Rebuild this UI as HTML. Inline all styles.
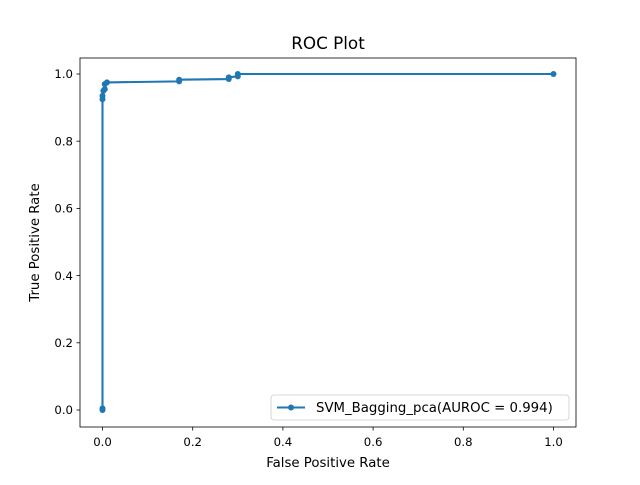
<!DOCTYPE html>
<html><head><meta charset="utf-8"><style>
body{margin:0;background:#fff}
svg text{font-family:"DejaVu Sans","Liberation Sans",sans-serif;fill:#000}
</style></head><body>
<svg id="c" width="640" height="480" xmlns="http://www.w3.org/2000/svg">
<rect width="640" height="480" fill="#fff"/>
<text x="328" y="49" font-size="16.8" text-anchor="middle">ROC Plot</text>
<g id="ticks"></g>
<path id="line" fill="none" stroke="#1f77b4" stroke-width="2.1"/>
<g id="pts"></g>
<rect x="80" y="58" width="496" height="369" fill="none" stroke="#000" stroke-width="0.8"/>
<text x="328" y="467" font-size="13.3" text-anchor="middle">False Positive Rate</text>
<text transform="translate(39,242.5) rotate(-90)" font-size="13.3" text-anchor="middle">True Positive Rate</text>
<g>
<rect x="271" y="395" width="298" height="25" rx="3" fill="#fff" stroke="#ccc" stroke-width="0.8"/>
<line x1="277" y1="407.5" x2="305" y2="407.5" stroke="#1f77b4" stroke-width="2.1"/>
<circle cx="291" cy="407.5" r="3" fill="#1f77b4"/>
<text x="316" y="412" font-size="13.3">SVM_Bagging_pca(AUROC = 0.994)</text>
</g>
</svg>
<script>
const fprValues=[0,0,0,0,0.002,0.005,0.005,0.01,0.17,0.17,0.28,0.28,0.30,0.30,1.0];
const tprValues=[0,0.005,0.925,0.935,0.95,0.955,0.97,0.975,0.978,0.983,0.985,0.99,0.993,1.0,1.0];
const xTicks=[0,0.2,0.4,0.6,0.8,1.0];
const yTicks=[0,0.2,0.4,0.6,0.8,1.0];
const NS="http://www.w3.org/2000/svg";
function sx(v){return 102.5+v*451;}
function sy(v){return 410-v*336;}
const tg=document.getElementById('ticks');
xTicks.forEach(t=>{
 const l=document.createElementNS(NS,'line');
 l.setAttribute('x1',sx(t));l.setAttribute('x2',sx(t));l.setAttribute('y1',427);l.setAttribute('y2',430.5);l.setAttribute('stroke','#000');l.setAttribute('stroke-width','0.8');
 
 
 tg.appendChild(l);
 const s=document.createElementNS(NS,'text');
 s.setAttribute('x',sx(t));s.setAttribute('y',446);s.setAttribute('font-size','11.7');s.setAttribute('text-anchor','middle');
 s.textContent=t.toFixed(1);
 
 
 tg.appendChild(s);
});
yTicks.forEach(t=>{
 const l=document.createElementNS(NS,'line');
 l.setAttribute('x1',76.5);l.setAttribute('x2',80);l.setAttribute('y1',sy(t));l.setAttribute('y2',sy(t));l.setAttribute('stroke','#000');l.setAttribute('stroke-width','0.8');
 
 
 tg.appendChild(l);
 const s=document.createElementNS(NS,'text');
 s.setAttribute('x',73);s.setAttribute('y',sy(t)+4.2);s.setAttribute('font-size','11.7');s.setAttribute('text-anchor','end');
 s.textContent=t.toFixed(1);
 
 
 tg.appendChild(s);
});
let d='';
fprValues.forEach((v,i)=>{d+=(i?'L':'M')+sx(v)+' '+sy(tprValues[i]);});
document.getElementById('line').setAttribute('d',d);
const pg=document.getElementById('pts');
fprValues.forEach((v,i)=>{
 const c=document.createElementNS(NS,'circle');
 c.setAttribute('cx',sx(v));c.setAttribute('cy',sy(tprValues[i]));c.setAttribute('r',3);c.setAttribute('fill','#1f77b4');
 
 
 pg.appendChild(c);
});
</script>
</body></html>
